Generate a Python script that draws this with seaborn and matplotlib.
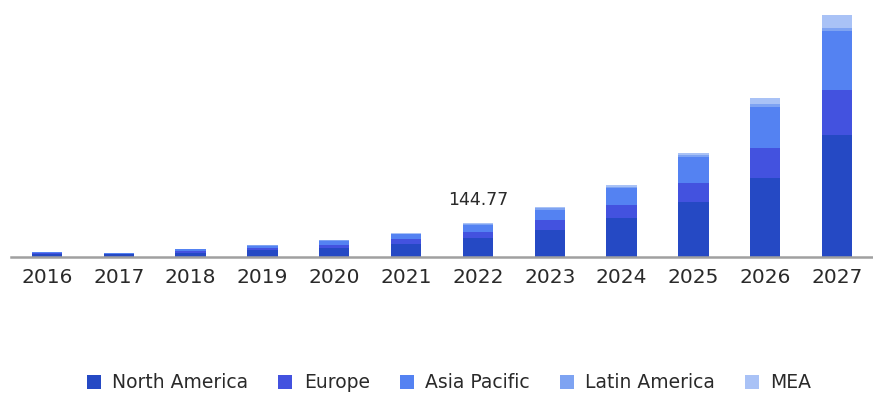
import numpy as np
import pandas as pd
import matplotlib
matplotlib.use("Agg")
import matplotlib.pyplot as plt
import seaborn as sns
from matplotlib.patches import Patch

years = ['2016', '2017', '2018', '2019', '2020', '2021',
         '2022', '2023', '2024', '2025', '2026', '2027']
north_america = [12, 11, 19, 28, 40, 57, 81, 115, 166, 234, 337, 520]
europe = [4, 3.5, 6, 9, 13, 18, 25.5, 42, 55, 81, 128, 192]
asia_pacific = [4, 3.5, 7, 11, 15, 22, 30, 45, 73, 113, 176, 250]
latin_america = [0.6, 0.5, 1, 1.5, 2.5, 3, 4.5, 5, 6, 7, 12, 12]
mea = [0.4, 0.5, 1, 1.5, 1.5, 2, 3.77, 6, 7, 8, 26, 57]

regions = ['North America', 'Europe', 'Asia Pacific', 'Latin America', 'MEA']
colors = ['#2549c4', '#4352df', '#5482f2', '#7ea3f2', '#a9c2f6']

df = pd.DataFrame({'year': years, 'North America': north_america, 'Europe': europe,
                   'Asia Pacific': asia_pacific, 'Latin America': latin_america, 'MEA': mea})
cum = df[regions].cumsum(axis=1)
cum['year'] = df['year']

sns.set_style('white')
plt.rcParams['font.family'] = ['DejaVu Sans']

fig = plt.figure(figsize=(8.73, 3.95), dpi=100)
ax = fig.add_axes([11 / 873, 138 / 395, 862 / 873, 257 / 395])

# stacked bars: draw cumulative totals from top series down
for reg, col in zip(regions[::-1], colors[::-1]):
    sns.barplot(data=cum, x='year', y=reg, color=col, width=0.42,
                linewidth=0, saturation=1, ax=ax)

ax.set_xlim(-0.5, 11.5)
ax.set_ylim(0, 1095)
ax.set_xlabel('')
ax.set_ylabel('')
ax.set_yticks([])
for s in ['top', 'left', 'right']:
    ax.spines[s].set_visible(False)
ax.spines['bottom'].set_color('#a0a0a0')
ax.spines['bottom'].set_linewidth(1.8)
ax.tick_params(axis='x', length=0, pad=8, labelsize=14.5, labelcolor='#2a2a2a')

total_2022 = cum['MEA'][6]
ax.annotate(f'{total_2022:.2f}', xy=(6, total_2022), xytext=(0, 10),
            textcoords='offset points', ha='center', va='bottom',
            fontsize=12.5, color='#2a2a2a')

handles = [Patch(facecolor=c, edgecolor='none') for c in colors]
fig.legend(handles, regions, loc='center', bbox_to_anchor=(449 / 873, 1 - 383 / 395),
           ncol=5, frameon=False, fontsize=13.5, handlelength=0.75, handleheight=0.75,
           handletextpad=0.6, columnspacing=1.6, labelcolor='#2a2a2a')

plt.savefig('out.png', dpi=100)
